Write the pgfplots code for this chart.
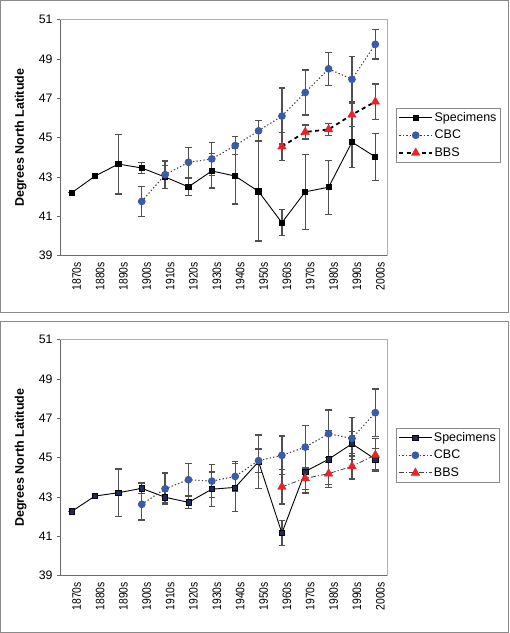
\documentclass[border=0pt]{standalone}
\usepackage{pgfplots}
\pgfplotsset{compat=1.18}
\usepackage{pgfplotstable}
\usepackage{fontspec}
\setmainfont{Liberation Sans}
\definecolor{cbcblue}{HTML}{3A5AAA}
\definecolor{bbsred}{HTML}{E8222B}
\definecolor{errc}{HTML}{505050}
\definecolor{framegray}{HTML}{8A8A8A}
\definecolor{boxgray}{HTML}{B0B0B0}
\definecolor{axgray}{HTML}{6A6A6A}
\definecolor{navy}{HTML}{1E2A5E}

% ---------- top panel data ----------
\pgfplotstableread{
x y e
0 42.20 0
1 43.05 0
2 43.66 1.52
3 43.46 0.28
4 43.00 0.60
5 42.50 0.45
6 43.31 0.87
7 43.05 1.42
8 42.27 2.52
9 40.68 0.67
10 42.25 1.90
11 42.48 1.37
12 44.78 1.30
13 44.02 1.18
}\TopSpec
\pgfplotstableread{
x y e
3 41.76 0.77
4 43.12 0.70
5 43.75 0.76
6 43.92 0.83
7 44.60 0.45
8 45.35 0.52
9 46.10 1.42
10 47.30 1.15
11 48.50 0.85
12 47.97 1.15
13 49.75 0.75
}\TopCBC
\pgfplotstableread{
x y e
9 44.55 0.70
10 45.29 0.35
11 45.42 0.30
12 46.17 0.60
13 46.83 0.90
}\TopBBS
% ---------- bottom panel data ----------
\pgfplotstableread{
x y e
0 42.27 0
1 43.05 0
2 43.22 1.20
3 43.44 0.27
4 42.99 0.30
5 42.73 0.33
6 43.40 0.88
7 43.49 1.22
8 44.80 1.35
9 41.17 0.63
10 44.30 1.10
11 44.92 1.45
12 45.71 0.62
13 44.92 0.55
}\BotSpec
\pgfplotstableread{
x y e
3 42.63 0.80
4 43.42 0.80
5 43.88 0.83
6 43.81 0.85
7 44.05 0.75
8 44.85 0.60
9 45.12 0.98
10 45.54 1.10
11 46.22 1.20
12 45.98 1.07
13 47.29 1.20
}\BotCBC
\pgfplotstableread{
x y e
9 43.52 0.88
10 43.95 0.55
11 44.19 0.55
12 44.56 0.65
13 45.14 0.85
}\BotBBS

\newcommand{\xl}[1]{\scalebox{0.84}[1]{#1}}

\pgfplotsset{
  panel/.style={
    scale only axis, width=327pt, height=236pt,
    xmin=-0.5, xmax=13.5, ymin=39, ymax=51,
    ytick={39,41,...,51},
    xtick={0,...,13},
    xticklabels={\xl{1870s},\xl{1880s},\xl{1890s},\xl{1900s},\xl{1910s},\xl{1920s},\xl{1930s},\xl{1940s},\xl{1950s},\xl{1960s},\xl{1970s},\xl{1980s},\xl{1990s},\xl{2000s}},
    /pgf/number format/assume math mode=true,
    yticklabel style={font=\fontsize{12.3}{14}\selectfont, xshift=-1pt},
    xticklabel style={font=\fontsize{12.3}{14}\selectfont, rotate=90, anchor=east, yshift=-5pt},
    ylabel={Degrees North Latitude},
    ylabel style={font=\fontsize{12.5}{14}\selectfont\bfseries, at={(axis description cs:-0.1199,0.5)}, anchor=center},
    axis line style={draw=boxgray, line width=0.9pt},
    y tick style={draw=axgray, line width=0.8pt},
    tick align=outside, major tick length=3pt,
    ytick pos=left, xtick pos=bottom,
    clip=false,
    legend cell align=left,
    legend style={at={(1.0275,0.6246)}, anchor=north west, draw=framegray, line width=0.7pt,
      font=\fontsize{12.5}{14}\selectfont, inner xsep=2pt, inner ysep=1.5pt,
      nodes={inner sep=1.5pt, text height=9.5pt, text depth=2.5pt}, row sep=2.6pt},
    legend image code/.code={\draw[mark repeat=2,mark phase=2] plot coordinates {(0pt,0pt) (16.5pt,0pt) (33pt,0pt)};},
  },
  errs/.style={draw=none, mark=none, forget plot,
    error bars/.cd, y dir=both, y explicit,
    error bar style={draw=errc, line width=1.3pt, solid},
    error mark options={draw=errc, rotate=90, mark size=3.3pt, line width=1.3pt, solid}},
}

\begin{document}
\begin{tikzpicture}[x=1pt,y=1pt]
\draw[framegray, line width=1.2pt] (0.8,-0.8) rectangle (508.5,-312.5);
\draw[framegray, line width=1.2pt] (0.8,-321.5) rectangle (508.5,-632.2);

% ===== top panel =====
\begin{axis}[panel, at={(60pt,-255.7pt)}, anchor=south west, x tick style={draw=none}]
\addplot[errs] table[x=x,y=y,y error=e] {\TopSpec};
\addplot[errs] table[x=x,y=y,y error=e] {\TopCBC};
\addplot[errs] table[x=x,y=y,y error=e] {\TopBBS};
\addplot[black, line width=0.9pt, mark=square*, mark size=2.6pt, mark options={solid, fill=black, draw=black}]
  table[x=x,y=y] {\TopSpec};
\addplot[black!75, line width=1.1pt, dash pattern=on 1.3pt off 2.2pt, mark=*, mark size=3.3pt, mark options={solid, fill=cbcblue, draw=cbcblue}]
  table[x=x,y=y] {\TopCBC};
\addplot[black, line width=1.8pt, dash pattern=on 4pt off 3.5pt, mark=triangle*, mark size=5pt, mark options={solid, fill=bbsred, draw=bbsred, line width=0.3pt}]
  table[x=x,y=y] {\TopBBS};
\legend{Specimens,CBC,BBS}
\draw[axgray, line width=0.9pt] (rel axis cs:0,1) -- (rel axis cs:0,0) -- (rel axis cs:1,0);
\end{axis}

% ===== bottom panel =====
\begin{axis}[panel, at={(60pt,-575.7pt)}, anchor=south west,
  x tick style={draw=none},
  extra x ticks={-0.5,0.5,...,13.5}, extra x tick labels={},
  extra x tick style={major tick length=4pt, tick style={draw=axgray, line width=0.8pt}}]
\addplot[errs] table[x=x,y=y,y error=e] {\BotSpec};
\addplot[errs] table[x=x,y=y,y error=e] {\BotCBC};
\addplot[errs] table[x=x,y=y,y error=e] {\BotBBS};
\addplot[black, line width=0.9pt, mark=square*, mark size=2.6pt, mark options={solid, fill=navy, draw=black, line width=0.6pt}]
  table[x=x,y=y] {\BotSpec};
\addplot[black!75, line width=1.1pt, dash pattern=on 1.3pt off 2.2pt, mark=*, mark size=3.3pt, mark options={solid, fill=cbcblue, draw=cbcblue}]
  table[x=x,y=y] {\BotCBC};
\addplot[black!75, line width=0.8pt, dash pattern=on 5pt off 2pt on 1.2pt off 2pt, mark=triangle*, mark size=5pt, mark options={solid, fill=bbsred, draw=bbsred, line width=0.3pt}]
  table[x=x,y=y] {\BotBBS};
\legend{Specimens,CBC,BBS}
\draw[axgray, line width=0.9pt] (rel axis cs:0,1) -- (rel axis cs:0,0) -- (rel axis cs:1,0);
\end{axis}

\pgfresetboundingbox
\path[use as bounding box] (0,0) rectangle (510,-633);
\end{tikzpicture}
\end{document}
